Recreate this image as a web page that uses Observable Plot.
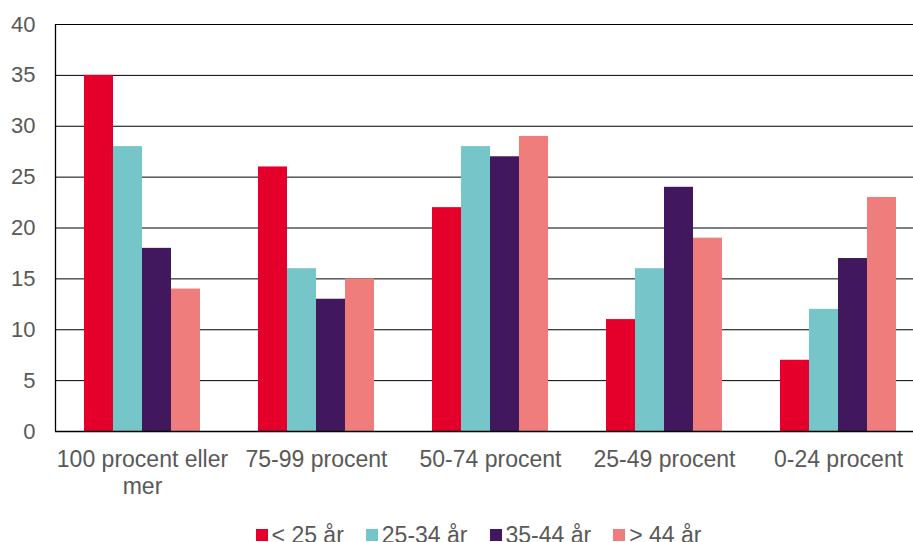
<!DOCTYPE html>
<html>
<head>
<meta charset="utf-8">
<script src="https://cdn.jsdelivr.net/npm/d3@7"></script>
<script src="https://cdn.jsdelivr.net/npm/@observablehq/plot@0.6"></script>
<style>
  html, body { margin: 0; padding: 0; background: #fff; }
  body { width: 913px; height: 542px; overflow: hidden; font-family: "Liberation Sans", Arial, sans-serif; }
  #chart { width: 913px; overflow: hidden; }
  #legend { width: 913px; box-sizing: border-box; padding-left: 44px; display: flex; justify-content: center; align-items: center; gap: 22px; font-size: 23px; color: #595959; line-height: 26px; }
  #legend .item { display: flex; align-items: center; gap: 4px; }
  #legend .sw { width: 12px; height: 12px; display: inline-block; }
</style>
</head>
<body>
<div id="chart"></div>
<div id="legend"></div>
<script>
const categories = ["100 procent eller mer", "75-99 procent", "50-74 procent", "25-49 procent", "0-24 procent"];
const categoryLabels = ["100 procent eller\nmer", "75-99 procent", "50-74 procent", "25-49 procent", "0-24 procent"];
const ages = ["< 25 år", "25-34 år", "35-44 år", "> 44 år"];
const colors = ["#E4002B", "#76C5C8", "#41185E", "#EF7D7B"];
const valuesUnder25 = [35, 26, 22, 11, 7];
const values25to34 = [28, 16, 28, 16, 12];
const values35to44 = [18, 13, 27, 24, 17];
const valuesOver44 = [14, 15, 29, 19, 23];
const yTicks = [0, 5, 10, 15, 20, 25, 30, 35, 40];

const series = [valuesUnder25, values25to34, values35to44, valuesOver44];
const data = [];
categories.forEach((c, i) => {
  ages.forEach((a, j) => data.push({cat: c, age: a, value: series[j][i]}));
});
const labelOf = new Map(categories.map((c, i) => [c, categoryLabels[i]]));

const chart = Plot.plot({
  width: 925,
  height: 500,
  marginLeft: 55,
  marginRight: 0,
  marginTop: 24,
  marginBottom: 69,
  style: {fontFamily: "Liberation Sans, Arial, sans-serif", color: "#595959", background: "#fff"},
  fx: {domain: categories, paddingInner: 0, paddingOuter: 0},
  x: {domain: ages, paddingInner: 0, paddingOuter: 1, axis: null},
  y: {domain: [0, 40]},
  color: {domain: ages, range: colors},
  marks: [
    Plot.ruleY(yTicks, {stroke: "#000", strokeWidth: 1}),
    Plot.barY(data, {fx: "cat", x: "age", y: "value", fill: "age"}),
    Plot.ruleY([0], {stroke: "#000", strokeWidth: 1.3}),
    Plot.axisY({ticks: yTicks, tickSize: 0, tickPadding: 20, fontSize: 22, label: null, fill: "#595959"}),
    Plot.axisFx({anchor: "bottom", tickSize: 0, tickPadding: 17, fontSize: 23, label: null, fill: "#595959",
      tickFormat: (d) => labelOf.get(d), lineHeight: 1.15})
  ]
});
chart.style.display = "block";
chart.style.maxWidth = "none";
chart.style.width = "925px";
chart.style.height = "500px";
document.getElementById("chart").appendChild(chart);

// y-axis line
const svg = d3.select(chart);
const ys = chart.scale("y");
svg.append("line").attr("x1", 55.5).attr("x2", 55.5).attr("y1", ys.apply(40)).attr("y2", ys.apply(0))
  .attr("stroke", "#000").attr("stroke-width", 1.3);

const legend = document.getElementById("legend");
ages.forEach((a, i) => {
  const it = document.createElement("div");
  it.className = "item";
  const sw = document.createElement("span");
  sw.className = "sw";
  sw.style.background = colors[i];
  const t = document.createElement("span");
  t.textContent = a;
  it.appendChild(sw); it.appendChild(t);
  legend.appendChild(it);
});
legend.style.marginTop = "22px";
</script>
</body>
</html>
